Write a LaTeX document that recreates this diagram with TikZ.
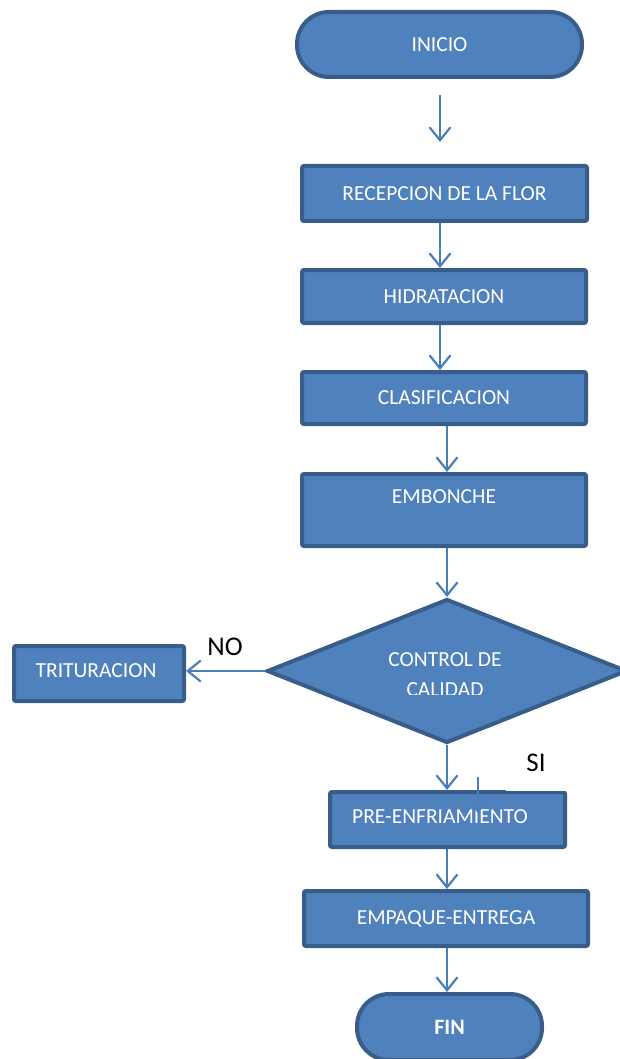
\documentclass[tikz,border=0pt]{standalone}
\usepackage{fontspec}
\setmainfont{Carlito}
\usetikzlibrary{arrows.meta,shapes.geometric}
\definecolor{boxfill}{HTML}{4F81BD}
\definecolor{boxline}{HTML}{385D8A}
\definecolor{flow}{HTML}{4A7EBB}
\begin{document}
\begin{tikzpicture}[x=1pt,y=-1pt,
  stepbox/.style={draw=boxline,fill=boxfill,line width=4pt,rounded corners=2pt,
    text=white,font=\fontsize{21.5}{25}\selectfont,inner sep=0pt},
  terminal/.style={stepbox,rounded corners=32pt},
  txt/.style={text=white,font=\fontsize{21.5}{25}\selectfont,inner sep=0pt},
  tag/.style={text=black,font=\fontsize{27}{30}\selectfont,inner sep=0pt},
  arr/.style={draw=flow,line width=2.2pt,-{Straight Barb[length=13pt,width=21pt]}}]
\useasboundingbox (0,0) rectangle (620,1059);

% process steps
\node[terminal,minimum width=285pt,minimum height=65pt] (inicio) at (439.5,44.5) {INICIO};
\node[stepbox,minimum width=285pt,minimum height=55pt] (recep) at (444.5,193.5) {RECEPCION DE LA FLOR};
\node[stepbox,minimum width=284pt,minimum height=53pt] (hidra) at (444,296.5) {HIDRATACION};
\node[stepbox,minimum width=284pt,minimum height=52pt] (clasif) at (444,398) {CLASIFICACION};
\node[stepbox,minimum width=284pt,minimum height=72pt] (embon) at (444,510) {};
\node[txt] (embontxt) at (444,497) {EMBONCHE};

% decision
\node[diamond,draw=boxline,fill=boxfill,line width=4pt,inner sep=0pt,
  minimum width=360pt,minimum height=144pt] (ctrl) at (447,671) {};
\node[txt] (ctrl1) at (445,660) {CONTROL DE};
\begin{scope}
  \clip (380,676) rectangle (510,694);
  \node[txt] (ctrl2) at (445,690) {CALIDAD};
\end{scope}

\node[stepbox,minimum width=170pt,minimum height=55pt] (trit) at (99,673.5) {};
\node[txt] (trittxt) at (96,671) {TRITURACION};

% cooling step: the box top is stepped at its right part
\node[stepbox,minimum width=235pt,minimum height=55pt] (pre) at (447.5,819.5) {};
\fill[white] (506,787) rectangle (570,790.5);
\draw[boxline,line width=1.5pt] (506,791.5) -- (565,791.5);
\node[txt] (pretxt) at (440,816.5) {PRE-ENFRIAMIENTO};

\node[stepbox,minimum width=284pt,minimum height=55pt] (emp) at (446,918.5) {EMPAQUE-ENTREGA};
\node[terminal,minimum width=185pt,minimum height=66pt,font=\fontsize{22}{25}\selectfont\bfseries] (fin) at (449.5,1027) {FIN};

% branch labels
\node[tag] (no) at (225,647) {NO};
\node[tag] (si) at (536,763) {SI};

% connectors
\draw[arr,shorten <=16pt,shorten >=22pt] ([xshift=0.5pt]inicio.south) -- ([xshift=-4.5pt]recep.north);
\draw[arr] ([xshift=-4.5pt]recep.south) -- ([xshift=-4pt]hidra.north);
\draw[arr] ([xshift=-4pt]hidra.south) -- ([xshift=-4pt]clasif.north);
\draw[arr] ([xshift=3pt]clasif.south) -- ([xshift=3pt]embon.north);
\draw[arr] ([xshift=3pt]embon.south) -- (ctrl.north);
\draw[arr] (ctrl.west) -- (ctrl.west -| trit.east);
\draw[arr] (ctrl.south) -- ([xshift=-0.5pt]pre.north);
\draw[arr] ([xshift=-0.5pt]pre.south) -- ([xshift=1pt]emp.north);
\draw[arr] ([xshift=1pt]emp.south) -- ([xshift=-2.5pt]fin.north);

% stray connector left over the cooling step
\coordinate (strayA) at (478,777);
\coordinate (strayB) at (478,813);
\draw[draw=flow,line width=1.8pt,-{Straight Barb[length=9pt,width=15pt]}] (strayA) -- (strayB);
\end{tikzpicture}
\end{document}
